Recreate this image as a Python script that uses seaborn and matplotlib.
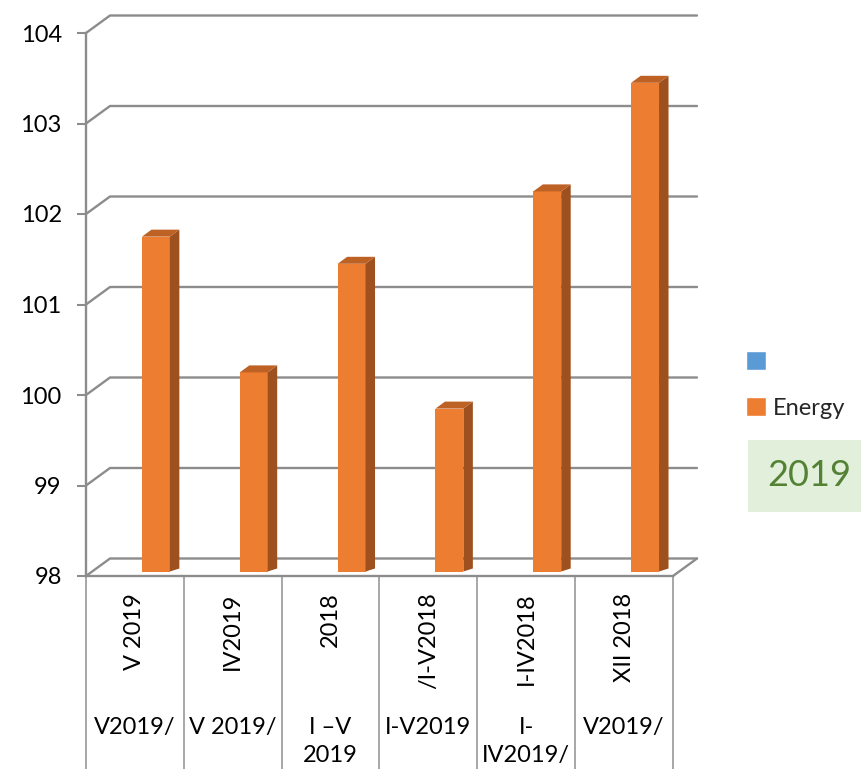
import matplotlib
matplotlib.use("Agg")
import matplotlib.pyplot as plt
from matplotlib.patches import Polygon, Patch, Rectangle
import seaborn as sns
import pandas as pd

# data
periods_top = ["V 2019", "IV2019", "2018", "/I-V2018", "I-IV2018", "XII 2018"]
periods_bottom = ["V2019/", "V 2019/", "I \u2013V\n2019", "I-V2019", "I-\nIV2019/", "V2019/"]
energy = [101.7, 100.2, 101.4, 99.8, 102.2, 103.4]
y_ticks = [98, 99, 100, 101, 102, 103, 104]
legend_labels = ["", "Energy"]
year_label = "2019"

ORANGE = "#ED7D31"
SIDE = "#9E501E"
TOP = "#BD6124"
GRID = "#8c8c8c"
FS = 17

sns.set_theme(style="white")
plt.rcParams["font.family"] = ["Lato", "DejaVu Sans"]

W, H = 862, 769
fig = plt.figure(figsize=(W / 100, H / 100), dpi=100)
ax = fig.add_axes([86 / W, 193 / H, 587 / W, 543 / H])

df = pd.DataFrame({"period": periods_top, "energy": energy})
sns.barplot(data=df, x="period", y="energy", color=ORANGE, saturation=1,
            width=0.285, ax=ax, zorder=3)

ax.set_xlim(-0.5, 5.5)
ax.set_ylim(98, 104)
px_x = 587 / 6.0   # pixels per x unit
px_y = 543 / 6.0   # pixels per y unit

# back wall / floor offset for the pseudo 3d look
gdx, gdy = 24 / px_x, 17.5 / px_y
for t in y_ticks:
    ax.plot([-0.5, -0.5 + gdx, 5.5 + gdx], [t, t + gdy, t + gdy],
            color=GRID, lw=1.7, clip_on=False, zorder=1)
ax.plot([5.5, 5.5 + gdx], [98, 98 + gdy], color=GRID, lw=1.7, clip_on=False, zorder=1)

# bars: shift front face into the depth and add side + top faces
sx, sy = 21 / px_x, 4.5 / px_y
ddx, ddy = 9.5 / px_x, 7 / px_y
for p in ax.patches:
    v = p.get_height()
    x0 = p.get_x() + sx
    x1 = x0 + p.get_width()
    p.set_x(x0)
    p.set_y(98 + sy)
    p.set_height(v - 98)
    p.set_edgecolor("none")
    top = v + sy
    ax.add_patch(Polygon([(x1, 98 + sy), (x1 + ddx, 98 + sy + 3 / px_y),
                          (x1 + ddx, top + ddy), (x1, top)],
                         closed=True, facecolor=SIDE, edgecolor="none", zorder=3))
    ax.add_patch(Polygon([(x0, top), (x0 + ddx, top + ddy), (x1 + ddx, top + ddy), (x1, top)],
                         closed=True, facecolor=TOP, edgecolor="none", zorder=3))

# axes styling
for s in ["top", "right"]:
    ax.spines[s].set_visible(False)
for s in ["left", "bottom"]:
    ax.spines[s].set_color(GRID)
    ax.spines[s].set_linewidth(1.7)
ax.set_yticks(y_ticks)
ax.tick_params(axis="y", left=True, length=6.5, width=1.5, color=GRID,
               pad=11, labelsize=FS, labelcolor="black")
ax.set_xticks(range(len(periods_top)))
ax.set_xticklabels(periods_top, rotation=90)
ax.tick_params(axis="x", bottom=False, length=0, pad=12, labelsize=FS, labelcolor="black")
ax.set_xlabel("")
ax.set_ylabel("")

# category table below the floor
xt = ax.get_xaxis_transform()
for k in range(len(periods_top) + 1):
    ax.plot([k - 0.5, k - 0.5], [0, -0.4], transform=xt, color="#a0a0a0",
            lw=1.3, clip_on=False)
for i, lab in enumerate(periods_bottom):
    ax.text(i, -0.26, lab, transform=xt, ha="center", va="top",
            fontsize=FS, linespacing=1.38, color="black")

# legend
handles = [Patch(facecolor="#5B9BD5"), Patch(facecolor=ORANGE)]
fig.legend(handles, legend_labels, loc="upper left",
           bbox_to_anchor=(746 / W, 1 - 351 / H), frameon=False, fontsize=FS,
           handlelength=0.85, handleheight=0.85, handletextpad=0.3,
           labelspacing=1.05, borderpad=0, borderaxespad=0)

fig.patches.append(Rectangle((748 / W, 1 - 512 / H), 114 / W, 72 / H,
                             transform=fig.transFigure, facecolor="#E2EFDA",
                             edgecolor="none"))
fig.text(809 / W, 1 - 476 / H, year_label, ha="center", va="center",
         fontsize=26, color="#548235")

fig.savefig("out.png", dpi=100)
